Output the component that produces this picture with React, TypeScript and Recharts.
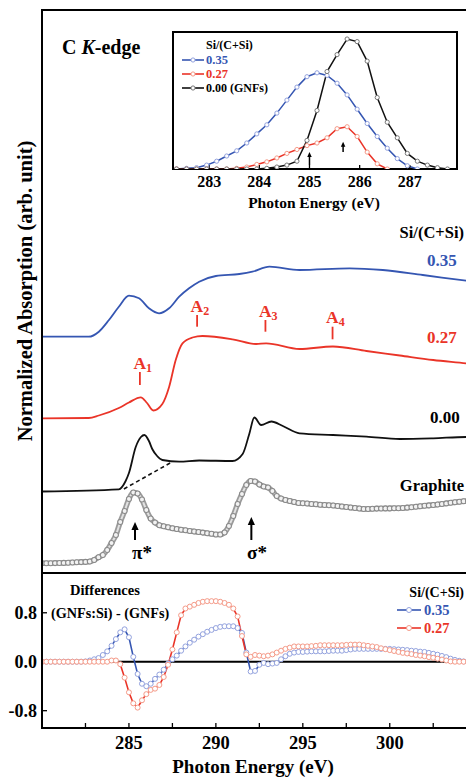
import React from 'react';
import { LineChart, Line, XAxis, YAxis, ReferenceLine } from 'recharts';

const SERIF = '"Liberation Serif", "Times New Roman", serif';
const BLUE = '#3556b2';
const RED = '#ea3428';
const BLUE_LIGHT = '#93a2de';
const RED_LIGHT = '#f59a88';

// ---- main panel (C K-edge spectra, arb. units) ----
const BLUE_E = [280, 282.69, 283.27, 283.85, 284.42, 285.0, 285.58, 286.15, 286.73, 287.31, 287.89, 288.46, 289.04, 290.0, 291.35, 292.1, 293.08, 294.81, 297.69, 299.6, 301.9, 304.39, 305];
const BLUE_V = [2.363, 2.363, 2.413, 2.53, 2.663, 2.773, 2.747, 2.647, 2.597, 2.647, 2.763, 2.847, 2.913, 2.97, 2.99, 3.013, 3.063, 3.03, 3.047, 3.03, 2.98, 2.923, 2.91];

const RED_E = [280, 282.69, 283.27, 284.42, 285.0, 285.68, 286.04, 286.4, 286.92, 287.31, 287.69, 288.08, 288.65, 289.23, 290.96, 292.31, 292.89, 294.81, 296.73, 298.66, 300.58, 302.5, 304.39, 305];
const RED_V = [1.547, 1.55, 1.575, 1.65, 1.705, 1.757, 1.7, 1.625, 1.69, 1.86, 2.13, 2.297, 2.355, 2.37, 2.337, 2.29, 2.297, 2.24, 2.265, 2.22, 2.175, 2.13, 2.097, 2.085];

const BLACK_E = [280, 284.42, 284.81, 285.0, 285.39, 285.69, 285.89, 286.15, 286.34, 286.62, 286.92, 287.89, 289.04, 290.96, 291.54, 291.92, 292.21, 292.6, 293.19, 293.85, 294.81, 296.73, 298.66, 300.58, 302.5, 304.39, 305];
const BLACK_V = [0.815, 0.837, 0.92, 1.0, 1.26, 1.36, 1.38, 1.32, 1.24, 1.17, 1.13, 1.113, 1.125, 1.12, 1.19, 1.39, 1.555, 1.48, 1.515, 1.47, 1.397, 1.38, 1.363, 1.34, 1.347, 1.36, 1.36];

// pi* background guide (dashed)
const STEP_E = [284.71, 287.5];
const STEP_V = [0.84, 1.113];

// measurement grid for graphite + difference spectra (eV)
const GRID_E = [
  280, 280.25, 280.5, 280.75, 281, 281.25, 281.5, 281.75, 282, 282.25,
  282.5, 282.75, 283, 283.25, 283.5, 283.75, 284, 284.25, 284.5, 284.75,
  285, 285.25, 285.5, 285.75, 286, 286.25, 286.5, 286.75, 287, 287.25,
  287.5, 287.75, 288, 288.25, 288.5, 288.75, 289, 289.25, 289.5, 289.75,
  290, 290.25, 290.5, 290.75, 291, 291.25, 291.5, 291.75, 292, 292.25,
  292.5, 292.75, 293, 293.25, 293.5, 293.75, 294, 294.25, 294.5, 294.75,
  295, 295.25, 295.5, 295.75, 296, 296.25, 296.5, 296.75, 297, 297.25,
  297.5, 297.75, 298, 298.25, 298.5, 298.75, 299, 299.25, 299.5, 299.75,
  300, 300.25, 300.5, 300.75, 301, 301.25, 301.5, 301.75, 302, 302.25,
  302.5, 302.75, 303, 303.25, 303.5, 303.75, 304, 304.25, 304.5,
];

const GRAPHITE_V = [
  0.097, 0.097, 0.098, 0.099, 0.1, 0.101, 0.103, 0.105, 0.107, 0.109,
  0.111, 0.115, 0.13, 0.158, 0.18, 0.23, 0.3, 0.38, 0.51, 0.62,
  0.74, 0.805, 0.795, 0.735, 0.63, 0.545, 0.505, 0.478, 0.467, 0.457,
  0.447, 0.44, 0.433, 0.427, 0.42, 0.415, 0.41, 0.404, 0.398, 0.393,
  0.385, 0.385, 0.405, 0.47, 0.57, 0.69, 0.79, 0.88, 0.92, 0.915,
  0.885, 0.865, 0.855, 0.82, 0.77, 0.745, 0.73, 0.72, 0.71, 0.7,
  0.697, 0.695, 0.69, 0.687, 0.683, 0.68, 0.677, 0.675, 0.67, 0.665,
  0.66, 0.655, 0.65, 0.645, 0.64, 0.64, 0.642, 0.644, 0.645, 0.646,
  0.646, 0.647, 0.647, 0.65, 0.654, 0.658, 0.663, 0.668, 0.672, 0.676,
  0.68, 0.685, 0.69, 0.696, 0.702, 0.708, 0.713, 0.717, 0.72,
];

// ---- differences (GNFs:Si) - (GNFs) ----
const DIFF_035 = [
  0, 0, 0, 0, 0, 0, 0, 0, 0, 0,
  0.005, 0.02, 0.04, 0.06, 0.11, 0.17, 0.26, 0.37, 0.48, 0.53,
  0.4, 0.08, -0.2, -0.36, -0.4, -0.36, -0.28, -0.21, -0.13, -0.03,
  0.04, 0.1, 0.18, 0.25, 0.31, 0.36, 0.41, 0.45, 0.49, 0.52,
  0.55, 0.57, 0.58, 0.58, 0.58, 0.55, 0.47, 0.15, -0.16, -0.15,
  -0.05, -0.02, -0.04, -0.03, -0.02, 0.04, 0.09, 0.13, 0.15, 0.16,
  0.16, 0.165, 0.17, 0.17, 0.17, 0.17, 0.175, 0.18, 0.18, 0.18,
  0.19, 0.2, 0.21, 0.21, 0.21, 0.21, 0.21, 0.21, 0.21, 0.21,
  0.21, 0.205, 0.2, 0.195, 0.19, 0.18, 0.175, 0.165, 0.16, 0.145,
  0.13, 0.115, 0.095, 0.075, 0.05, 0.03, 0.015, 0.005, 0,
];
const DIFF_027 = [
  0, 0, 0, 0, 0, 0, 0, 0, 0, 0,
  0, 0, 0, 0, 0, 0, 0.02, 0.02, -0.04, -0.26,
  -0.5, -0.68, -0.75, -0.63, -0.53, -0.46, -0.44, -0.38, -0.25, -0.05,
  0.2, 0.48, 0.76, 0.87, 0.9, 0.93, 0.96, 0.98, 0.99, 0.99,
  0.99, 0.98, 0.96, 0.93, 0.87, 0.74, 0.42, 0.12, 0.08, 0.11,
  0.1, 0.09, 0.1, 0.12, 0.15, 0.18, 0.21, 0.23, 0.25, 0.25,
  0.25, 0.25, 0.255, 0.26, 0.27, 0.27, 0.27, 0.27, 0.27, 0.27,
  0.275, 0.28, 0.28, 0.28, 0.27, 0.26, 0.25, 0.24, 0.22, 0.205,
  0.19, 0.175, 0.16, 0.145, 0.135, 0.125, 0.11, 0.1, 0.09, 0.075,
  0.065, 0.05, 0.035, 0.02, 0.005, 0, 0, 0, 0,
];

// ---- inset (pi* region) ----
const INSET_E = [282.35, 282.55, 282.75, 282.95, 283.15, 283.35, 283.55, 283.75, 283.95, 284.15, 284.35, 284.55, 284.75, 284.95, 285.15, 285.35, 285.55, 285.75, 285.95, 286.15, 286.35, 286.55, 286.75, 286.95, 287.15, 287.35, 287.55, 287.75];
const INSET_035 = [0, 0.005, 0.01, 0.03, 0.06, 0.1, 0.14, 0.2, 0.27, 0.34, 0.43, 0.53, 0.63, 0.71, 0.74, 0.72, 0.66, 0.57, 0.46, 0.35, 0.25, 0.16, 0.08, 0.025, 0];
const INSET_027 = [0, 0, 0, 0, 0, 0, 0.005, 0.015, 0.035, 0.055, 0.085, 0.12, 0.15, 0.18, 0.2, 0.24, 0.31, 0.325, 0.25, 0.13, 0.04, 0];
const INSET_000 = [0, 0, 0, 0, 0, 0, 0, 0, 0, 0.005, 0.015, 0.03, 0.06, 0.22, 0.45, 0.75, 0.88, 1.0, 0.98, 0.83, 0.55, 0.36, 0.24, 0.12, 0.06, 0.03, 0.01, 0];

// annotations
const A_MARKS = [
  { n: '1', e: 285.63, lo: 1.88, hi: 2.01 },
  { n: '2', e: 288.92, lo: 2.463, hi: 2.58 },
  { n: '3', e: 292.85, lo: 2.413, hi: 2.53 },
  { n: '4', e: 296.71, lo: 2.337, hi: 2.463 },
];
const MAIN_ARROWS = [
  { e: 285.35, lo: 0.33, hi: 0.51 },
  { e: 292.04, lo: 0.33, hi: 0.56 },
];
const INSET_ARROWS = [
  { e: 285.0, lo: 0.03, hi: 0.13 },
  { e: 285.67, lo: 0.13, hi: 0.21 },
];

const MAIN_TICKS = [282.5, 285, 287.5, 290, 292.5, 295, 297.5, 300, 302.5];
const INSET_TICKS = [283, 284, 285, 286, 287];
const DIFF_YTICKS = [-0.8, 0, 0.8];

const pts = (es: number[], vs: number[]) => vs.map((v, i) => ({ e: es[i], v }));

const blueData = pts(BLUE_E, BLUE_V);
const redData = pts(RED_E, RED_V);
const blackData = pts(BLACK_E, BLACK_V);
const stepData = pts(STEP_E, STEP_V);
const graphiteData = pts(GRID_E, GRAPHITE_V);
const diff035 = pts(GRID_E, DIFF_035);
const diff027 = pts(GRID_E, DIFF_027);
const inset035 = pts(INSET_E, INSET_035);
const inset027 = pts(INSET_E, INSET_027);
const inset000 = pts(INSET_E, INSET_000);

const arrowShape = (head: number, width: number) => (p: any) => {
  const { x1, y1, x2, y2 } = p;
  return (
    <g>
      <line x1={x1} y1={y1} x2={x2} y2={y2 + head * 0.7} stroke="#000" strokeWidth={width} />
      <polygon
        points={`${x2},${y2} ${x2 - head * 0.45},${y2 + head} ${x2 + head * 0.45},${y2 + head}`}
        fill="#000"
      />
    </g>
  );
};

const aLabel = (n: string) => (p: any) => {
  const vb = p.viewBox || {};
  return (
    <text x={vb.x - 6.5} y={vb.y - 3.5} fill={RED} fontFamily={SERIF} fontWeight="bold" fontSize={17.5}>
      A<tspan fontSize={12} dy={3}>{n}</tspan>
    </text>
  );
};

const tickFont = (size: number) => ({ fill: '#000', fontSize: size, fontWeight: 'bold', fontFamily: SERIF });

const T = (props: any) => <text fontFamily={SERIF} fontWeight="bold" {...props} />;

const LegendGlyph = ({ x1, x2, y, color, light, r }: any) => (
  <g>
    <line x1={x1} x2={x2} y1={y} y2={y} stroke={color} strokeWidth={1.6} />
    <circle cx={(x1 + x2) / 2} cy={y} r={r} fill="#fff" stroke={light} strokeWidth={1} />
  </g>
);

export default function App() {
  return (
    <div
      style={{
        position: 'absolute', left: 0, top: 0, width: 466, height: 777,
        overflow: 'hidden', background: '#fff', fontFamily: SERIF,
      }}
    >
      {/* main spectra */}
      <div style={{ position: 'absolute', left: 0, top: 0 }}>
        <LineChart width={500} height={583} margin={{ top: 10, right: 23.3, bottom: 0, left: 42 }}>
          <XAxis
            type="number" dataKey="e" domain={[280, 305]} ticks={MAIN_TICKS} interval={0}
            tick={false} tickSize={-5} height={10} allowDataOverflow
            axisLine={{ stroke: '#000', strokeWidth: 2 }} tickLine={{ stroke: '#000', strokeWidth: 1.3 }}
          />
          <YAxis hide type="number" domain={[0, 5.63]} allowDataOverflow />
          {/* graphite: dense open-circle trace drawn as a grey tube with markers */}
          <Line data={graphiteData} dataKey="v" type="monotone" stroke="#9b9b9b" strokeWidth={5.5}
            dot={false} isAnimationActive={false} />
          <Line data={graphiteData} dataKey="v" type="monotone" stroke="#e2e2e2" strokeWidth={2}
            dot={{ r: 2.5, stroke: '#8a8a8a', strokeWidth: 1.1, fill: '#f2f2f2' }} isAnimationActive={false} />
          <Line data={stepData} dataKey="v" type="linear" stroke="#111" strokeWidth={1.6}
            strokeDasharray="4 3" dot={false} isAnimationActive={false} />
          <Line data={blackData} dataKey="v" type="monotone" stroke="#111" strokeWidth={1.8}
            dot={false} isAnimationActive={false} />
          <Line data={redData} dataKey="v" type="monotone" stroke={RED} strokeWidth={1.8}
            dot={false} isAnimationActive={false} />
          <Line data={blueData} dataKey="v" type="monotone" stroke={BLUE} strokeWidth={1.8}
            dot={false} isAnimationActive={false} />
          {A_MARKS.map((a) => (
            <ReferenceLine key={a.n} segment={[{ x: a.e, y: a.lo }, { x: a.e, y: a.hi }]}
              stroke={RED} strokeWidth={1.8} label={aLabel(a.n)} />
          ))}
          {MAIN_ARROWS.map((a) => (
            <ReferenceLine key={a.e} segment={[{ x: a.e, y: a.lo }, { x: a.e, y: a.hi }]}
              shape={arrowShape(8, 2)} />
          ))}
        </LineChart>
      </div>

      {/* differences */}
      <div style={{ position: 'absolute', left: 0, top: 560 }}>
        <LineChart width={500} height={217} margin={{ top: 13, right: 23.3, bottom: 0, left: 0 }}>
          <XAxis
            type="number" dataKey="e" domain={[280, 305]} ticks={MAIN_TICKS} interval={0}
            tickFormatter={(v: number) => (v % 5 === 0 ? String(v) : '')}
            tick={tickFont(18.5)} tickSize={-5} tickMargin={13} height={49} allowDataOverflow
            axisLine={{ stroke: '#000', strokeWidth: 2 }} tickLine={{ stroke: '#000', strokeWidth: 1.3 }}
          />
          <YAxis
            type="number" domain={[-1.083, 1.45]} ticks={DIFF_YTICKS} interval={0} width={42}
            tickFormatter={(v: number) => v.toFixed(1)} tick={tickFont(18)} tickSize={-5} tickMargin={10}
            axisLine={{ stroke: '#000', strokeWidth: 2 }} tickLine={{ stroke: '#000', strokeWidth: 1.3 }}
            allowDataOverflow
          />
          <ReferenceLine y={0} stroke="#000" strokeWidth={2} />
          <Line data={diff035} dataKey="v" type="linear" stroke={BLUE} strokeWidth={1.6}
            dot={{ r: 2.5, stroke: BLUE_LIGHT, strokeWidth: 1, fill: '#fff' }} isAnimationActive={false} />
          <Line data={diff027} dataKey="v" type="linear" stroke={RED} strokeWidth={1.6}
            dot={{ r: 2.5, stroke: RED_LIGHT, strokeWidth: 1, fill: '#fff' }} isAnimationActive={false} />
        </LineChart>
      </div>

      {/* outer frame */}
      <div style={{
        position: 'absolute', left: 41, top: 9, width: 440, height: 720,
        border: '2px solid #000', boxSizing: 'border-box',
      }} />

      {/* inset */}
      <div style={{
        position: 'absolute', left: 172, top: 31, width: 286, height: 139,
        border: '2px solid #000', boxSizing: 'border-box', background: '#fff',
      }} />
      <div style={{ position: 'absolute', left: 173, top: 32 }}>
        <LineChart width={284} height={185} margin={{ top: 0, right: 0, bottom: 0, left: 0 }}>
          <XAxis
            type="number" dataKey="e" domain={[282.28, 287.94]} ticks={INSET_TICKS} interval={0}
            tick={tickFont(16)} tickSize={-4} tickMargin={11} height={48} allowDataOverflow
            axisLine={false} tickLine={{ stroke: '#000', strokeWidth: 1.3 }}
          />
          <YAxis hide type="number" domain={[0, 1.054]} allowDataOverflow />
          <Line data={inset035} dataKey="v" type="linear" stroke={BLUE} strokeWidth={1.5}
            dot={{ r: 2.1, stroke: BLUE_LIGHT, strokeWidth: 1, fill: '#fff' }} isAnimationActive={false} />
          <Line data={inset027} dataKey="v" type="linear" stroke={RED} strokeWidth={1.5}
            dot={{ r: 2.1, stroke: RED_LIGHT, strokeWidth: 1, fill: '#fff' }} isAnimationActive={false} />
          <Line data={inset000} dataKey="v" type="linear" stroke="#111" strokeWidth={1.5}
            dot={{ r: 2.1, stroke: '#777', strokeWidth: 1, fill: '#fff' }} isAnimationActive={false} />
          {INSET_ARROWS.map((a) => (
            <ReferenceLine key={a.e} segment={[{ x: a.e, y: a.lo }, { x: a.e, y: a.hi }]}
              shape={arrowShape(5, 1.5)} />
          ))}
        </LineChart>
      </div>

      {/* text layer */}
      <svg width={466} height={777} style={{ position: 'absolute', left: 0, top: 0, pointerEvents: 'none' }}>
        <T x={62} y={53.5} fontSize={20}>C <tspan fontStyle="italic">K</tspan>-edge</T>
        <T x={25} y={291} fontSize={20.5} textAnchor="middle" dominantBaseline="central"
          transform="rotate(-90 25 291)">Normalized Absorption (arb. unit)</T>

        <T x={464} y={238} fontSize={16.5} textAnchor="end">Si/(C+Si)</T>
        <T x={427} y={265.5} fontSize={17} fill={BLUE}>0.35</T>
        <T x={427} y={342.5} fontSize={17} fill={RED}>0.27</T>
        <T x={430} y={422.5} fontSize={17}>0.00</T>
        <T x={464} y={490.5} fontSize={16.5} textAnchor="end">Graphite</T>
        <T x={142} y={559} fontSize={19} textAnchor="middle">π*</T>
        <T x={257} y={559} fontSize={19} textAnchor="middle">σ*</T>

        <T x={70} y={595} fontSize={14.5}>Differences</T>
        <T x={51} y={618} fontSize={14.2}>(GNFs:Si) - (GNFs)</T>
        <T x={464} y={597} fontSize={14} textAnchor="end">Si/(C+Si)</T>
        <LegendGlyph x1={397} x2={421} y={610} color={BLUE} light={BLUE_LIGHT} r={2.5} />
        <T x={424} y={615} fontSize={14.5} fill={BLUE}>0.35</T>
        <LegendGlyph x1={397} x2={421} y={628} color={RED} light={RED_LIGHT} r={2.5} />
        <T x={424} y={633} fontSize={14.5} fill={RED}>0.27</T>
        <T x={253} y={773} fontSize={19} textAnchor="middle">Photon Energy (eV)</T>

        <T x={206} y={49} fontSize={12}>Si/(C+Si)</T>
        <LegendGlyph x1={182} x2={204} y={60} color={BLUE} light={BLUE_LIGHT} r={2.1} />
        <T x={206} y={64.3} fontSize={12.5} fill={BLUE}>0.35</T>
        <LegendGlyph x1={182} x2={204} y={74} color={RED} light={RED_LIGHT} r={2.1} />
        <T x={206} y={78.3} fontSize={12.5} fill={RED}>0.27</T>
        <LegendGlyph x1={182} x2={204} y={88} color="#111" light="#777" r={2.1} />
        <T x={206} y={92.3} fontSize={12}>0.00 (GNFs)</T>
        <T x={314} y={207.5} fontSize={15.5} textAnchor="middle">Photon Energy (eV)</T>
      </svg>
    </div>
  );
}
